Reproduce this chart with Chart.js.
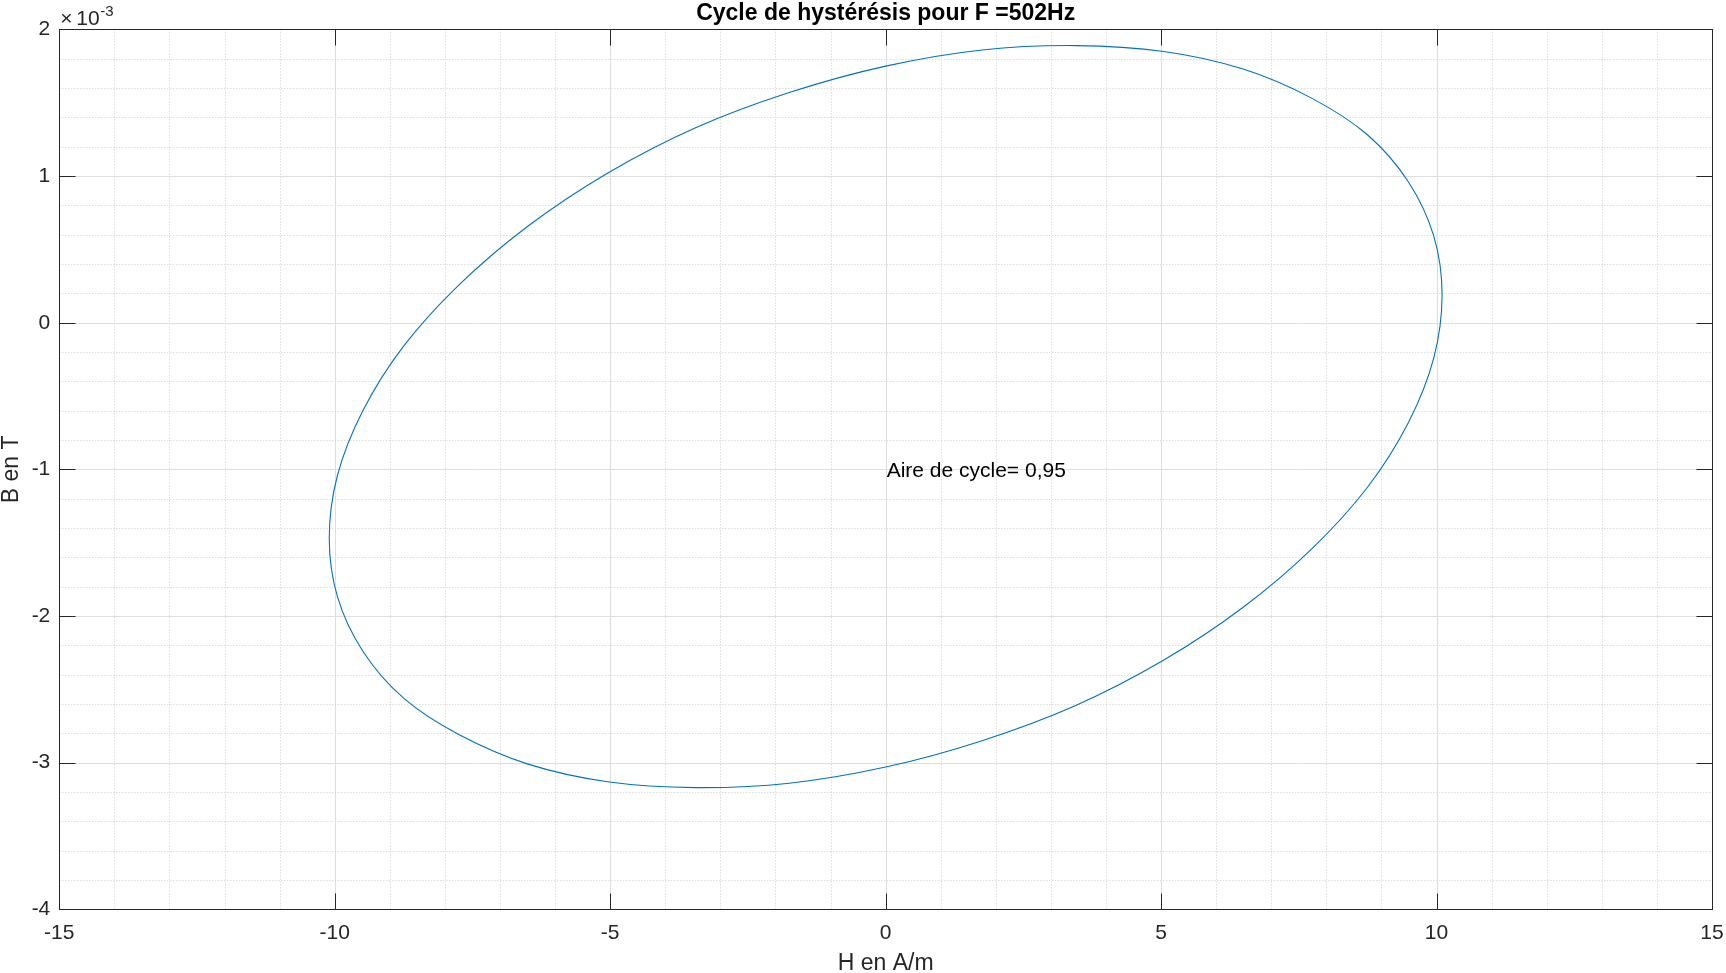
<!DOCTYPE html>
<html>
<head>
<meta charset="utf-8">
<script src="https://cdn.jsdelivr.net/npm/chart.js@4.4.1/dist/chart.umd.min.js"></script>
<style>
  html, body { margin: 0; padding: 0; background: #fff; }
  #wrap { width: 1726px; height: 973px; }
</style>
</head>
<body>
<div id="wrap"><canvas id="chart" width="1726" height="973"></canvas></div>
<script>
// H (A/m) and B (x1e-3 T) read along the loop
const hValues = [10.10, 9.95, 9.49, 8.75, 7.74, 6.49, 5.05, 3.45, 1.75, 0.00,
  -1.75, -3.45, -5.05, -6.49, -7.74, -8.75, -9.49, -9.95, -10.10,
  -9.95, -9.49, -8.75, -7.74, -6.49, -5.05, -3.45, -1.75, 0.00,
  1.75, 3.45, 5.05, 6.49, 7.74, 8.75, 9.49, 9.95];
const bValues = [0.19, 0.59, 0.96, 1.28, 1.53, 1.73, 1.85, 1.89, 1.86, 1.75,
  1.57, 1.33, 1.02, 0.66, 0.26, -0.16, -0.60, -1.04, -1.47,
  -1.87, -2.24, -2.56, -2.81, -3.01, -3.13, -3.17, -3.14, -3.03,
  -2.85, -2.61, -2.30, -1.94, -1.54, -1.12, -0.68, -0.24];
const bScale = 1e-3;

const xTicks = [-15, -10, -5, 0, 5, 10, 15];
const yTicks = [-4, -3, -2, -1, 0, 1, 2]; // x1e-3
const titleText = 'Cycle de hystérésis pour F =502Hz';
const xLabel = 'H en A/m';
const yLabel = 'B en T';
const noteText = 'Aire de cycle= 0,95';
const noteAt = { x: 0, y: -1 };

const AXIS = '#262626';
const FONT = '"Liberation Sans", Arial, Helvetica, sans-serif';

// closed loop: one extra point on each side, their segments hidden
const n = hValues.length;
const loop = [];
loop.push({ x: hValues[n - 1], y: bValues[n - 1] * bScale });
for (let i = 0; i < n; i++) loop.push({ x: hValues[i], y: bValues[i] * bScale });
loop.push({ x: hValues[0], y: bValues[0] * bScale });
loop.push({ x: hValues[1], y: bValues[1] * bScale });
const lastIdx = loop.length - 1;

const crisp = v => Math.round(v) + 0.5;

const gridPlugin = {
  id: 'matlabGrid',
  beforeDatasetsDraw(chart) {
    const { ctx, chartArea: a, scales: { x, y } } = chart;
    ctx.save();
    ctx.lineWidth = 1;
    // minor dotted
    ctx.strokeStyle = '#cccccc';
    ctx.setLineDash([1, 2]);
    for (let v = -15; v <= 15; v++) {
      if (v % 5 === 0) continue;
      const px = crisp(x.getPixelForValue(v));
      ctx.beginPath(); ctx.moveTo(px, a.top); ctx.lineTo(px, a.bottom); ctx.stroke();
    }
    for (let k = -20; k <= 10; k++) {
      if (k % 5 === 0) continue;
      const py = crisp(y.getPixelForValue(k * 0.2 * bScale));
      ctx.beginPath(); ctx.moveTo(a.left, py); ctx.lineTo(a.right, py); ctx.stroke();
    }
    // major solid
    ctx.setLineDash([]);
    ctx.strokeStyle = '#dedede';
    xTicks.forEach(v => {
      const px = crisp(x.getPixelForValue(v));
      ctx.beginPath(); ctx.moveTo(px, a.top); ctx.lineTo(px, a.bottom); ctx.stroke();
    });
    yTicks.forEach(v => {
      const py = crisp(y.getPixelForValue(v * bScale));
      ctx.beginPath(); ctx.moveTo(a.left, py); ctx.lineTo(a.right, py); ctx.stroke();
    });
    ctx.restore();
  },
  afterDatasetsDraw(chart) {
    const { ctx, chartArea: a, scales: { x, y } } = chart;
    ctx.save();
    ctx.strokeStyle = AXIS;
    ctx.lineWidth = 1;
    const L = crisp(a.left), R = crisp(a.right), T = crisp(a.top), B = crisp(a.bottom);
    ctx.strokeRect(L, T, R - L, B - T);
    const tl = 16;
    ctx.beginPath();
    xTicks.forEach(v => {
      const px = crisp(x.getPixelForValue(v));
      ctx.moveTo(px, B); ctx.lineTo(px, B - tl);
      ctx.moveTo(px, T); ctx.lineTo(px, T + tl);
    });
    yTicks.forEach(v => {
      const py = crisp(y.getPixelForValue(v * bScale));
      ctx.moveTo(L, py); ctx.lineTo(L + tl, py);
      ctx.moveTo(R, py); ctx.lineTo(R - tl, py);
    });
    ctx.stroke();

    // annotation
    ctx.fillStyle = '#000';
    ctx.font = '21px ' + FONT;
    ctx.textAlign = 'left';
    ctx.textBaseline = 'middle';
    ctx.fillText(noteText, x.getPixelForValue(noteAt.x) + 1, y.getPixelForValue(noteAt.y * bScale) + 1.5);

    // exponent label
    ctx.fillStyle = AXIS;
    ctx.textBaseline = 'alphabetic';
    ctx.font = '21px ' + FONT;
    ctx.fillText('\u00d7', a.left + 1, 25);
    ctx.fillText('10', a.left + 17, 25);
    ctx.font = '15px ' + FONT;
    ctx.fillText('-3', a.left + 41, 16);
    ctx.restore();
  }
};

new Chart(document.getElementById('chart'), {
  type: 'scatter',
  data: {
    datasets: [{
      data: loop,
      showLine: true,
      borderColor: '#0072BD',
      borderWidth: 1.1,
      pointRadius: 0,
      tension: 0.335,
      segment: {
        borderColor: c => (c.p0DataIndex === 0 || c.p1DataIndex === lastIdx) ? 'rgba(0,0,0,0)' : undefined
      }
    }]
  },
  options: {
    responsive: false,
    animation: false,
    devicePixelRatio: 1,
    layout: { padding: { top: 0, right: 14, bottom: 0, left: 0 } },
    plugins: {
      legend: { display: false },
      tooltip: { enabled: false },
      title: {
        display: true,
        text: titleText,
        fullSize: false,
        color: '#000',
        font: { family: FONT, size: 23, weight: 'bold', lineHeight: 1.15 },
        padding: { top: 0, bottom: 3 }
      }
    },
    scales: {
      x: {
        type: 'linear',
        min: -15, max: 15,
        grid: { display: false, drawTicks: false },
        border: { display: false },
        ticks: {
          stepSize: 5, color: AXIS, padding: 11, maxRotation: 0,
          font: { family: FONT, size: 21 }
        },
        title: {
          display: true, text: xLabel, color: AXIS, padding: 0,
          font: { family: FONT, size: 23, lineHeight: 0.8 }
        },
        afterFit(s) { s.height = 63.7; s.paddingLeft = 0; s.paddingRight = 0; }
      },
      y: {
        type: 'linear',
        min: -4 * bScale, max: 2 * bScale,
        grid: { display: false, drawTicks: false },
        border: { display: false },
        ticks: {
          stepSize: bScale, color: AXIS, padding: 9,
          font: { family: FONT, size: 21 },
          callback: v => String(Math.round(v / bScale))
        },
        title: {
          display: true, text: yLabel, color: AXIS, padding: 0,
          font: { family: FONT, size: 23, lineHeight: 1.05 }
        },
        afterFit(s) { s.width = 59.3; s.paddingTop = 0; s.paddingBottom = 0; }
      }
    }
  },
  plugins: [gridPlugin]
});
</script>
</body>
</html>
